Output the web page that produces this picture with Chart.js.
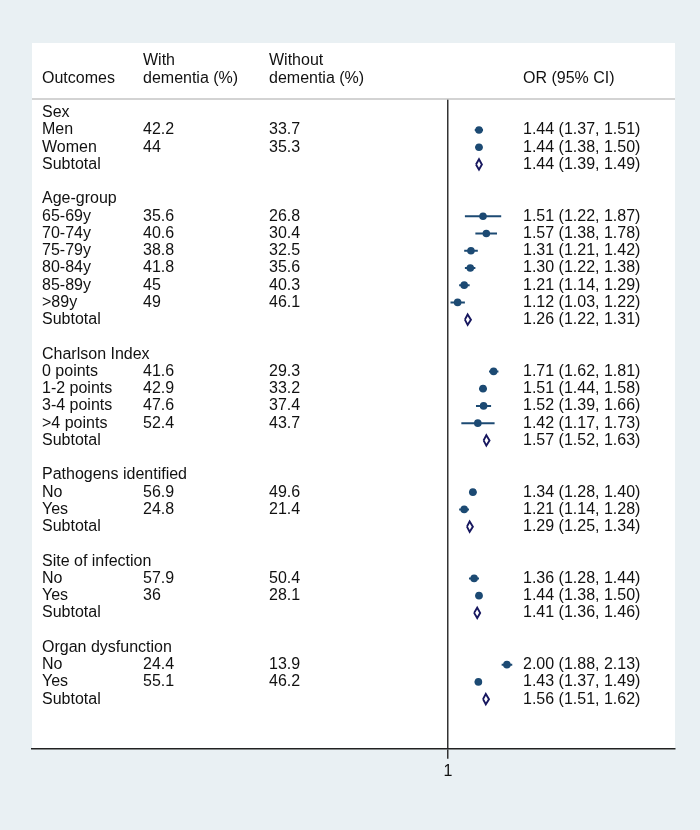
<!DOCTYPE html>
<html>
<head>
<meta charset="utf-8">
<script src="https://cdn.jsdelivr.net/npm/chart.js@4.4.0/dist/chart.umd.min.js"></script>
<style>
  html, body { margin: 0; padding: 0; background: #e9f0f3; }
  #c { display: block; }
</style>
</head>
<body>
<canvas id="c" width="700" height="830"></canvas>
<script>
// ---- data ----
const outcomes = ["Sex","Men","Women","Subtotal","",
  "Age-group","65-69y","70-74y","75-79y","80-84y","85-89y",">89y","Subtotal","",
  "Charlson Index","0 points","1-2 points","3-4 points",">4 points","Subtotal","",
  "Pathogens identified","No","Yes","Subtotal","",
  "Site of infection","No","Yes","Subtotal","",
  "Organ dysfunction","No","Yes","Subtotal"];
const withDementia = ["","42.2","44","","",
  "","35.6","40.6","38.8","41.8","45","49","","",
  "","41.6","42.9","47.6","52.4","","",
  "","56.9","24.8","","",
  "","57.9","36","","",
  "","24.4","55.1",""];
const withoutDementia = ["","33.7","35.3","","",
  "","26.8","30.4","32.5","35.6","40.3","46.1","","",
  "","29.3","33.2","37.4","43.7","","",
  "","49.6","21.4","","",
  "","50.4","28.1","","",
  "","13.9","46.2",""];
const oddsRatio = [null,1.44,1.44,1.44,null,
  null,1.51,1.57,1.31,1.30,1.21,1.12,1.26,null,
  null,1.71,1.51,1.52,1.42,1.57,null,
  null,1.34,1.21,1.29,null,
  null,1.36,1.44,1.41,null,
  null,2.00,1.43,1.56];
const ciLow = [null,1.37,1.38,1.39,null,
  null,1.22,1.38,1.21,1.22,1.14,1.03,1.22,null,
  null,1.62,1.44,1.39,1.17,1.52,null,
  null,1.28,1.14,1.25,null,
  null,1.28,1.38,1.36,null,
  null,1.88,1.37,1.51];
const ciHigh = [null,1.51,1.50,1.49,null,
  null,1.87,1.78,1.42,1.38,1.29,1.22,1.31,null,
  null,1.81,1.58,1.66,1.73,1.63,null,
  null,1.40,1.28,1.34,null,
  null,1.44,1.50,1.46,null,
  null,2.13,1.49,1.62];
const headerLine1 = ["", "With", "Without", ""];
const headerLine2 = ["Outcomes", "dementia (%)", "dementia (%)", "OR (95% CI)"];
const xTickValues = [1];

// ---- styles ----
const FAMILY = '"Liberation Sans", Arial, sans-serif';
const FONT = '16px ' + FAMILY;
const MARK = '#1c4a73';
const DIAM = '#17175f';
const colX = [42, 143, 269, 523];

// ---- datasets ----
const datasets = [];
oddsRatio.forEach((or, i) => {
  if (or === null) return;
  if (outcomes[i] === 'Subtotal') {
    datasets.push({
      type: 'scatter', showLine: true, fill: false, tension: 0,
      borderColor: DIAM, borderWidth: 1.9, pointRadius: 0,
      data: [{x: ciLow[i], y: i}, {x: or, y: i - 0.3}, {x: ciHigh[i], y: i},
             {x: or, y: i + 0.3}, {x: ciLow[i], y: i}]
    });
  } else {
    datasets.push({
      type: 'scatter', showLine: true, fill: false,
      borderColor: MARK, borderWidth: 2, pointRadius: 0,
      data: [{x: ciLow[i], y: i}, {x: ciHigh[i], y: i}]
    });
  }
});
datasets.push({
  type: 'scatter', showLine: false,
  pointRadius: 3.8, pointStyle: 'circle', backgroundColor: MARK, borderWidth: 0,
  data: oddsRatio.map((or, i) => ({or, i}))
    .filter(d => d.or !== null && outcomes[d.i] !== 'Subtotal')
    .map(d => ({x: d.or, y: d.i}))
});

const tablePlugin = {
  id: 'table',
  beforeDraw(chart) {
    const {ctx, chartArea: a} = chart;
    ctx.save();
    ctx.fillStyle = '#ffffff';
    ctx.fillRect(a.left, 43, a.right - a.left, a.bottom - 43);
    ctx.restore();
  },
  afterDraw(chart) {
    const {ctx, chartArea: a} = chart;
    const ys = chart.scales.y;
    ctx.save();
    // header separator
    ctx.strokeStyle = '#c4c4c4';
    ctx.lineWidth = 1.5;
    ctx.beginPath();
    ctx.moveTo(a.left, a.top);
    ctx.lineTo(a.right, a.top);
    ctx.stroke();
    ctx.font = FONT;
    ctx.fillStyle = '#111';
    ctx.textBaseline = 'middle';
    ctx.textAlign = 'left';
    headerLine1.forEach((t, c) => { if (t) ctx.fillText(t, colX[c], ys.getPixelForValue(-3)); });
    headerLine2.forEach((t, c) => { if (t) ctx.fillText(t, colX[c], ys.getPixelForValue(-2)); });
    outcomes.forEach((t, i) => {
      const y = ys.getPixelForValue(i);
      if (t) ctx.fillText(t, colX[0], y);
      if (withDementia[i]) ctx.fillText(withDementia[i], colX[1], y);
      if (withoutDementia[i]) ctx.fillText(withoutDementia[i], colX[2], y);
      if (oddsRatio[i] !== null) {
        const s = oddsRatio[i].toFixed(2) + ' (' + ciLow[i].toFixed(2) + ', ' + ciHigh[i].toFixed(2) + ')';
        ctx.fillText(s, colX[3], y);
      }
    });
    ctx.restore();
  }
};

new Chart(document.getElementById('c'), {
  type: 'scatter',
  data: { datasets },
  options: {
    responsive: false,
    animation: false,
    events: [],
    layout: { padding: { left: 32, right: 25, top: 99, bottom: 46 } },
    plugins: { legend: { display: false }, tooltip: { enabled: false } },
    scales: {
      x: {
        type: 'logarithmic',
        min: 0.00749, max: 14.45,
        afterBuildTicks: s => { s.ticks = xTickValues.map(v => ({value: v})); },
        ticks: {
          autoSkip: false, maxRotation: 0, padding: 3,
          color: '#111', font: { family: FAMILY, size: 16 },
          callback: v => xTickValues.includes(v) ? String(v) : ''
        },
        grid: { display: true, color: '#333', lineWidth: 1.5, drawOnChartArea: true, drawTicks: true, tickLength: 10, tickColor: '#333' },
        border: { display: true, color: '#222', width: 1.5 }
      },
      y: {
        type: 'linear', reverse: true, min: -0.794, max: 36.88, display: false
      }
    }
  },
  plugins: [tablePlugin]
});
</script>
</body>
</html>
